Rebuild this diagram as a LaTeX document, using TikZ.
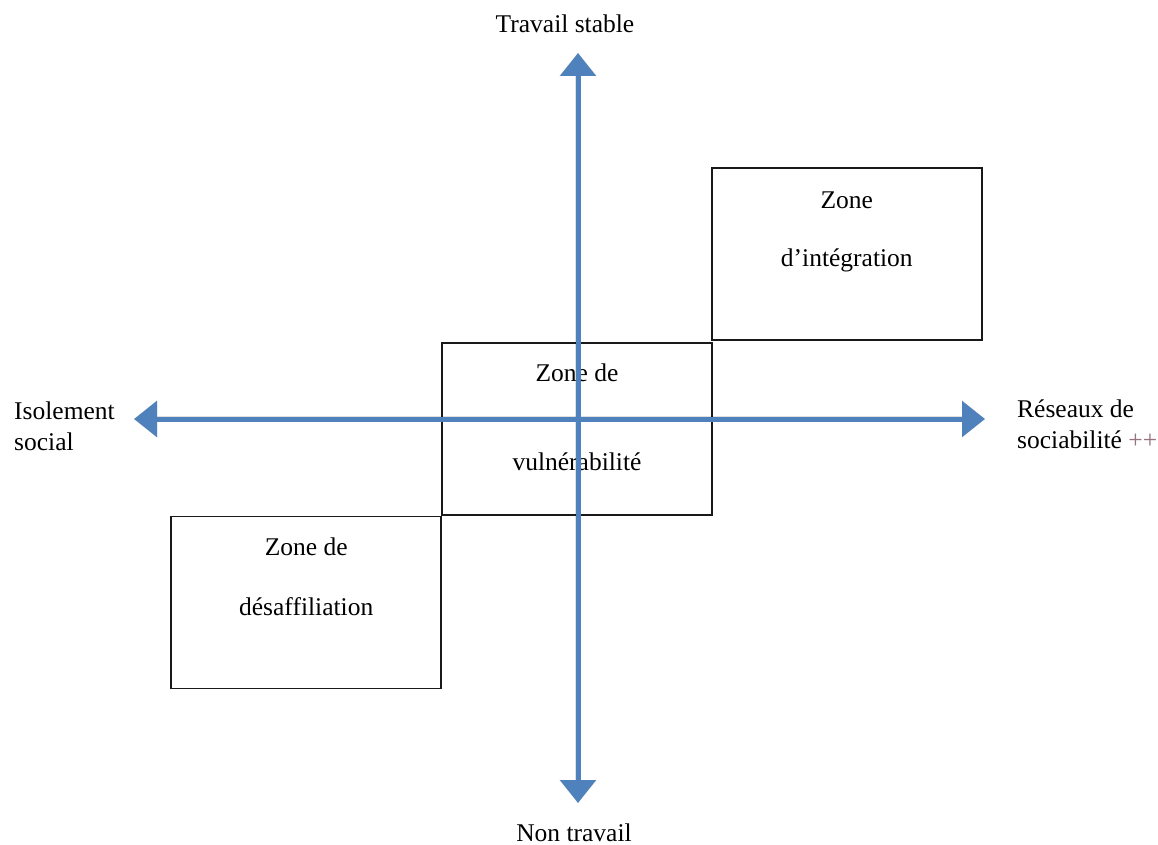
\documentclass[tikz,border=0pt]{standalone}
\usepackage{fontspec}
\setmainfont{Liberation Serif}
\usetikzlibrary{arrows.meta}
\definecolor{axisblue}{RGB}{79,129,189}
\definecolor{plusc}{RGB}{150,115,125}
\begin{document}
\begin{tikzpicture}[x=1pt,y=-1pt,
  zonebox/.style={draw=black!90,line width=1.5pt,inner sep=0pt,minimum width=270pt,minimum height=172pt},
  txt/.style={inner sep=0pt,font=\fontsize{25.5}{30.5}\selectfont},
  axisline/.style={draw=axisblue,line width=5pt,{Triangle[width=35pt,length=23pt]}-{Triangle[width=35pt,length=23pt]}},
  axisshadow/.style={draw=black,opacity=0.12,line width=6pt,{Triangle[width=36pt,length=23pt]}-{Triangle[width=36pt,length=23pt]}}
]
\useasboundingbox[fill=white] (0,0) rectangle (1158,845);

% zone boxes
\node[zonebox] (integ) at (846.8,254) {};
\node[zonebox] (vuln) at (577,429) {};
\node[zonebox] (desaff) at (306.2,602.5) {};

% zone texts
\node[txt,anchor=base] (t1a) at (846.8,208.3) {Zone};
\node[txt,anchor=base] (t1b) at (846.8,266.7) {d’intégration};
\node[txt,anchor=base] (t2a) at (577,381.7) {Zone de};
\node[txt,anchor=base] (t2b) at (577,470.7) {vulnérabilité};
\node[txt,anchor=base] (t3a) at (306.2,555.7) {Zone de};
\node[txt,anchor=base] (t3b) at (306.2,615) {désaffiliation};

% axis end points
\coordinate (ytop) at (578,53);
\coordinate (ybot) at (578,803);
\coordinate (xl) at (134,419);
\coordinate (xr) at (985,419);

% shadows
\begin{scope}[shift={(2,3)}]
\draw[axisshadow] (ybot) -- (ytop);
\draw[axisshadow] (xl) -- (xr);
\end{scope}
% axes
\draw[axisline] (ybot) -- (ytop);
\draw[axisline] (xl) -- (xr);

% axis labels
\node[txt,anchor=base] (top) at (565,33) {Travail stable};
\node[txt,anchor=base] (bot) at (574,841.5) {Non travail};
\node[txt,anchor=base west,align=left] (left) at (14,450) {Isolement\\social};
\node[txt,anchor=base west,align=left] (right) at (1017,448) {Réseaux de\\sociabilité {\color{plusc}++}};
\end{tikzpicture}
\end{document}
